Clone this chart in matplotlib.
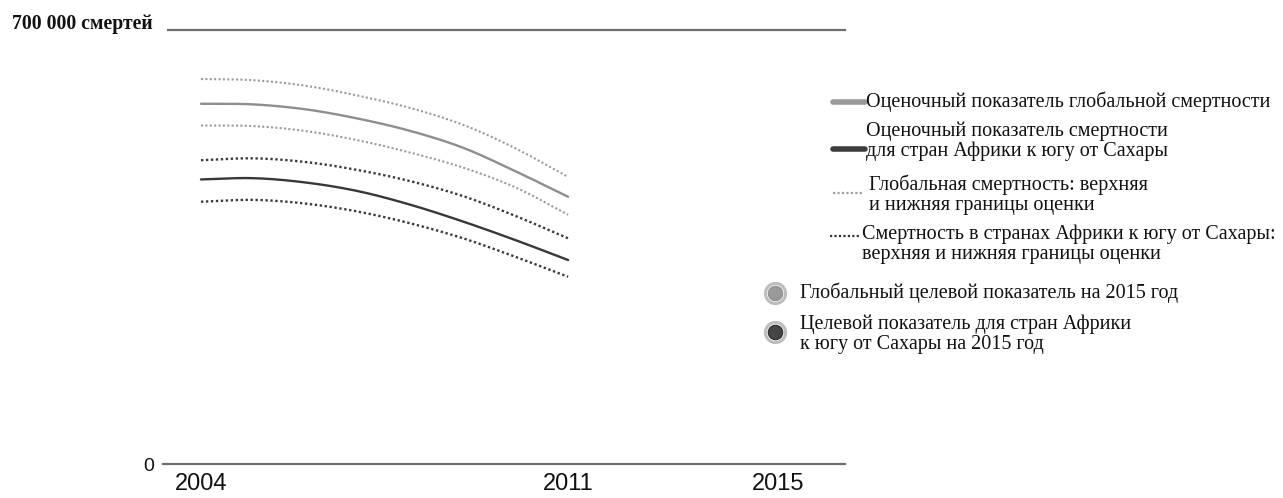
import numpy as np
import matplotlib
matplotlib.use("Agg")
import matplotlib.pyplot as plt
from matplotlib.lines import Line2D

# Malaria deaths, 2004-2011
years = [2004, 2005, 2006, 2007, 2008, 2009, 2010, 2011]
global_est = [581000, 580000, 572000, 557000, 537000, 510000, 472000, 431000]
global_upper = [621000, 619000, 610000, 594000, 574000, 547000, 509000, 463000]
global_lower = [546000, 545000, 537000, 522000, 502000, 478000, 446000, 402000]
ssa_est = [459000, 461000, 454000, 440000, 418000, 391000, 361000, 329000]
ssa_upper = [490000, 493000, 487000, 474000, 456000, 432000, 400000, 364000]
ssa_lower = [423000, 426000, 420000, 407000, 388000, 364000, 334000, 302000]

x_ticks = [2004, 2011, 2015]
y_max = 700000
y_label = "700 000 смертей"

legend_texts = [
    "Оценочный показатель глобальной смертности",
    "Оценочный показатель смертности\nдля стран Африки к югу от Сахары",
    "Глобальная смертность: верхняя\nи нижняя границы оценки",
    "Смертность в странах Африки к югу от Сахары:\nверхняя и нижняя границы оценки",
    "Глобальный целевой показатель на 2015 год",
    "Целевой показатель для стран Африки\nк югу от Сахары на 2015 год",
]

C_GLOBAL = "#8e8e8e"
C_SSA = "#383838"
C_GLOBAL_DOT = "#9a9a9a"
C_SSA_DOT = "#3a3a3a"
SERIF = ["Liberation Serif", "DejaVu Serif"]
SANS = ["Liberation Sans", "DejaVu Sans"]


def smooth(xs, ys, n=200):
    """Cubic Hermite curve through the yearly points."""
    xs = np.asarray(xs, float)
    ys = np.asarray(ys, float)
    m = np.gradient(ys, xs)
    xd = np.linspace(xs[0], xs[-1], n)
    idx = np.clip(np.searchsorted(xs, xd) - 1, 0, len(xs) - 2)
    h = xs[idx + 1] - xs[idx]
    t = (xd - xs[idx]) / h
    h00 = 2 * t**3 - 3 * t**2 + 1
    h10 = t**3 - 2 * t**2 + t
    h01 = -2 * t**3 + 3 * t**2
    h11 = t**3 - t**2
    yd = h00 * ys[idx] + h10 * h * m[idx] + h01 * ys[idx + 1] + h11 * h * m[idx + 1]
    return xd, yd


W, H = 1283, 498
fig = plt.figure(figsize=(W / 100, H / 100), dpi=100)
fig.patch.set_facecolor("white")

ax = fig.add_axes([162.7 / W, 34 / H, 682.3 / W, 434 / H])
ax.set_xlim(2003.27, 2016.28)
ax.set_ylim(0, y_max)

dots = (0, (1, 1.1))
for series in (global_upper, global_lower):
    ax.plot(*smooth(years, series), color=C_GLOBAL_DOT, lw=1.5, ls=dots)
for series in (ssa_upper, ssa_lower):
    ax.plot(*smooth(years, series), color=C_SSA_DOT, lw=1.7, ls=dots)
ax.plot(*smooth(years, global_est), color=C_GLOBAL, lw=1.7, solid_capstyle="round")
ax.plot(*smooth(years, ssa_est), color=C_SSA, lw=1.7, solid_capstyle="round")

# axis frame: only the baseline and the top reference line
for s in ["left", "right", "top"]:
    ax.spines[s].set_visible(False)
ax.spines["bottom"].set_color("#6e6e6e")
ax.spines["bottom"].set_linewidth(1.6)
ax.axhline(y_max, xmin=0.008, xmax=1, color="#6e6e6e", lw=1.6, clip_on=False)

ax.set_xticks(x_ticks)
ax.set_xticklabels([str(v) for v in x_ticks], family=SANS, fontsize=17, color="#111111")
ax.set_yticks([0])
ax.set_yticklabels(["0"], family=SANS, fontsize=14, color="#111111")
ax.tick_params(axis="x", length=0, pad=6.5)
ax.tick_params(axis="y", length=0, pad=6)

fig.text(12 / W, 1 - 29 / H, y_label, family=SERIF, fontsize=14.2,
         fontweight="bold", ha="left", va="baseline", color="#111111")


# legend, laid out in pixel positions of the figure
def fx(px):
    return px / W


def fy(py):
    return 1 - py / H


FS = 14.5
handles = [
    dict(kind="line", y=102, color="#9a9a9a", x0=833, x1=865),
    dict(kind="line", y=149, color="#3d3d3d", x0=833, x1=865),
    dict(kind="dot", y=193, color="#a0a0a0", x0=833, x1=862),
    dict(kind="dot", y=236, color="#333333", x0=830, x1=861),
]
text_pos = [(866, 102), (866, 141.5), (869, 194.5), (862, 244), (800, 293), (800, 334.5)]

for h in handles:
    if h["kind"] == "line":
        fig.add_artist(Line2D([fx(h["x0"]), fx(h["x1"])], [fy(h["y"]), fy(h["y"])],
                              color=h["color"], lw=4, solid_capstyle="round"))
    else:
        fig.add_artist(Line2D([fx(h["x0"]), fx(h["x1"])], [fy(h["y"]), fy(h["y"])],
                              color=h["color"], lw=1.6, ls=(0, (1, 1))))

for txt, (px, py) in zip(legend_texts, text_pos):
    fig.text(fx(px), fy(py), txt, family=SERIF, fontsize=FS, ha="left", va="center",
             color="#111111", linespacing=1.05)

for cy, inner, edge in [(293, "#9a9a9a", "#8a8a8a"), (332, "#454545", "#222222")]:
    cx = 775
    fig.add_artist(Line2D([fx(cx)], [fy(cy)], marker="o", ms=14.5, mfc="white",
                          mec="#bdbdbd", mew=2.2, ls="none"))
    fig.add_artist(Line2D([fx(cx)], [fy(cy)], marker="o", ms=10.5, mfc=inner,
                          mec=edge, mew=0.7, ls="none"))

fig.savefig("out.png", dpi=100, facecolor="white")
